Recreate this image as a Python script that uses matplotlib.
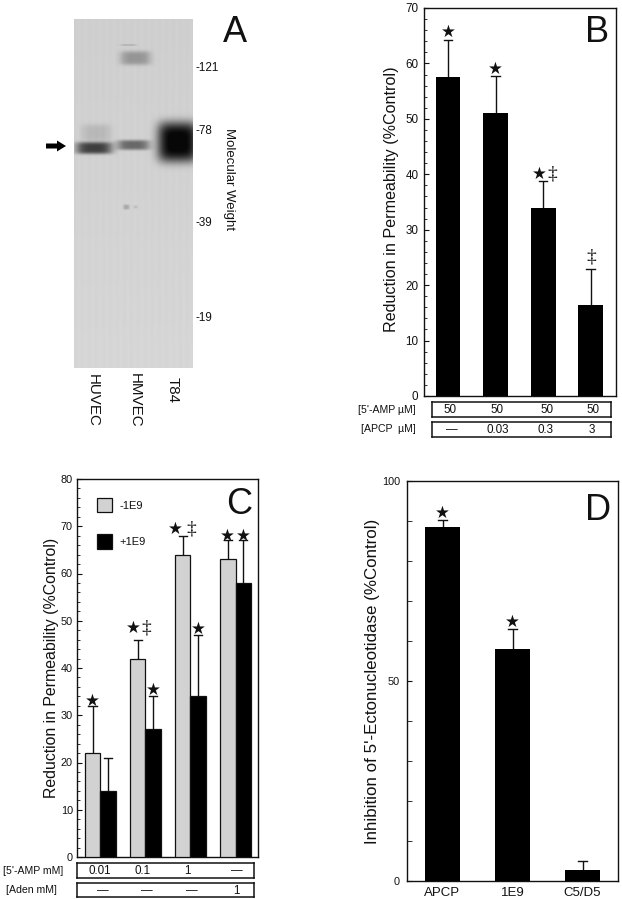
import numpy as np
import matplotlib
matplotlib.use("Agg")
import matplotlib.pyplot as plt
from matplotlib.patches import FancyArrow
from matplotlib.ticker import MultipleLocator

plt.rcParams['font.family'] = ['Liberation Sans', 'DejaVu Sans']
INK = '#111111'
W, H = 622, 899

# Panel A: gel bands (centre x px, centre y px, half width, half height, darkness)
lanes_a = ['HUVEC', 'HMVEC', 'T84']
mw_labels = ['-121', '-78', '-39', '-19']
gel_bands = [
    (94, 148, 18, 6, 0.70),
    (96, 133, 15, 9, 0.12),
    (133, 145, 16, 5, 0.50),
    (177, 142, 20, 20, 1.0),
    (135, 58, 15, 7, 0.28),
    (128, 45, 8, 0.7, 0.15),
    (126, 207, 3, 2.5, 0.20),
    (135, 207, 2, 1.5, 0.10),
]

# Panel B
doses_amp_b = ['50', '50', '50', '50']
doses_apcp_b = ['—', '0.03', '0.3', '3']
reduction_b = [57.5, 51, 34, 16.5]
err_top_b = [64.3, 57.7, 38.7, 22.9]
marks_b = ['*', '*', '*‡', '‡']

# Panel C
doses_amp_c = ['0.01', '0.1', '1', '—']
doses_aden_c = ['—', '—', '—', '1']
minus_1e9 = [22, 42, 64, 63]
plus_1e9 = [14, 27, 34, 58]
err_minus = [32, 46, 68, 67]
err_plus = [21, 34, 47, 67]
marks_minus = ['*', '*‡', '*‡', '*']
marks_plus = ['', '*', '*', '*']

# Panel D
cats_d = ['APCP', '1E9', 'C5/D5']
inhibition_d = [88.5, 58, 2.7]
err_top_d = [90.2, 63, 5]
marks_d = ['*', '*', '']


def axpx(fig, l, t, r, b, **kw):
    return fig.add_axes([l / W, 1 - b / H, (r - l) / W, (b - t) / H], **kw)


def ftext(fig, x, y, s, **kw):
    kw.setdefault('ha', 'center')
    kw.setdefault('va', 'center')
    kw.setdefault('color', INK)
    return fig.text(x / W, 1 - y / H, s, **kw)


def style(ax, major, minor, size, pad):
    ax.yaxis.set_major_locator(MultipleLocator(major))
    ax.yaxis.set_minor_locator(MultipleLocator(minor))
    ax.tick_params(axis='y', which='major', direction='in', length=3.8, width=0.8,
                   labelsize=size, pad=pad, colors=INK)
    ax.tick_params(axis='y', which='minor', direction='in', length=2.4, width=0.6, colors=INK)
    for s in ax.spines.values():
        s.set_linewidth(1.0)
        s.set_color(INK)


def errs(ax, x, v, top, w):
    for xi, vi, ti in zip(x, v, top):
        ax.plot([xi, xi], [vi, ti], color=INK, lw=1.0, solid_capstyle='butt', zorder=2)
        ax.plot([xi - w / 2, xi + w / 2], [ti, ti], color=INK, lw=1.0, zorder=2)


def star(ax, x, y, size=12):
    ax.text(x, y, '★', ha='center', va='center', fontsize=size, family='DejaVu Sans',
            color=INK, zorder=4)


def dagger(ax, x, y, size=14):
    ax.text(x, y, '‡', ha='center', va='center', fontsize=size, family='Liberation Serif',
            color=INK, zorder=4)


def marks(ax, x, top, labels, star_dx, dag_dx, dy_star, dy_dag):
    for xi, ti, m in zip(x, top, labels):
        if m == '*':
            star(ax, xi, ti + dy_star)
        elif m == '‡':
            dagger(ax, xi, ti + dy_dag)
        elif m == '*‡':
            star(ax, xi + star_dx, ti + dy_star)
            dagger(ax, xi + dag_dx, ti + dy_star)


def dose_box(fig, l, t, r, b, centers, labels, title, title_x):
    ax = axpx(fig, l, t, r, b)
    ax.set_xlim(l, r)
    ax.set_ylim(0, 1)
    ax.set_xticks([])
    ax.set_yticks([])
    for s in ax.spines.values():
        s.set_linewidth(1.1)
        s.set_color(INK)
    for c, lab in zip(centers, labels):
        ax.text(c, 0.45, lab, ha='center', va='center', fontsize=8.4, color=INK)
    ftext(fig, title_x, (t + b) / 2, title, fontsize=7.6, ha='right')


fig = plt.figure(figsize=(W / 100, H / 100), dpi=100, facecolor='white')

# ---------- A ----------
gl, gt, gr, gb = 74, 19, 192, 368
ax = axpx(fig, gl, gt, gr, gb)
xx, yy = np.meshgrid(np.arange(gl, gr) + .5, np.arange(gt, gb) + .5)
dark = np.zeros_like(xx)
for cx, cy, hw, hh, d in gel_bands:
    blob = d * np.exp(-((np.abs(xx - cx) / hw) ** 4) - ((np.abs(yy - cy) / hh) ** 4))
    dark = 1 - (1 - dark) * (1 - blob)
base = 0.81 + 0.005 * np.sin(xx * 0.9) + 0.03 * (yy - gt) / (gb - gt)
img = np.clip(base * (1 - dark), 0.03, 1)
ax.imshow(img, cmap='gray', vmin=0, vmax=1, extent=(gl, gr, gb, gt), aspect='auto', interpolation='bilinear')
ax.axis('off')
for lab, y in zip(mw_labels, [68, 131, 223, 318]):
    ftext(fig, 196, y, lab, fontsize=8.4, ha='left')
ftext(fig, 229, 179, 'Molecular Weight', fontsize=9.5, rotation=270)
for lab, x, y in zip(lanes_a, [93, 135, 173], [400, 400, 390]):
    ftext(fig, x, y, lab, fontsize=10.9, rotation=270)
ftext(fig, 235, 33, 'A', fontsize=26)
ov = axpx(fig, 0, 0, W, H)
ov.set_xlim(0, W)
ov.set_ylim(H, 0)
ov.axis('off')
ov.patch.set_alpha(0)
ov.add_patch(FancyArrow(46, 146, 20, 0, width=5, head_width=11, head_length=9,
                        length_includes_head=True, color='black', lw=0))

# ---------- B ----------
ax = axpx(fig, 424, 8, 616, 396)
x = np.arange(4)
ax.bar(x, reduction_b, width=0.52, color='black', zorder=3)
errs(ax, x, reduction_b, err_top_b, 0.18)
marks(ax, x, err_top_b, marks_b, -0.09, 0.19, 1.3, 2.2)
ax.set_xlim(-0.504, 3.53)
ax.set_ylim(0, 70)
ax.set_xticks([])
style(ax, 10, 2, 8.4, 4)
ax.set_ylabel('Reduction in Permeability (%Control)', fontsize=11.6, color=INK)
ax.yaxis.set_label_coords(-0.130, 0.506)
ftext(fig, 597, 33, 'B', fontsize=26)
dose_box(fig, 432, 402, 611, 417, [450, 497, 547, 593], doses_amp_b, '[5\'-AMP µM]', 416)
dose_box(fig, 432, 422, 611, 437, [452, 498, 546, 592], doses_apcp_b, '[APCP  µM]', 416)

# ---------- C ----------
ax = axpx(fig, 77, 479, 258, 857)
x = np.arange(4)
bw = 0.344
xm, xp = x - bw / 2, x + bw / 2
ax.bar(xm, minus_1e9, width=bw, color='#d2d2d2', edgecolor=INK, lw=0.9, zorder=3, label='-1E9')
ax.bar(xp, plus_1e9, width=bw, color='black', edgecolor=INK, lw=0.9, zorder=3, label='+1E9')
errs(ax, xm, minus_1e9, err_minus, 0.18)
errs(ax, xp, plus_1e9, err_plus, 0.18)
marks(ax, xm[:1], err_minus[:1], marks_minus[:1], 0, 0, 1.1, 2)
marks(ax, xm[1:2], err_minus[1:2], marks_minus[1:2], -0.09, 0.18, 2.5, 2)
marks(ax, xm[2:3], err_minus[2:3], marks_minus[2:3], -0.16, 0.18, 1.5, 2)
marks(ax, xm[3:], err_minus[3:], marks_minus[3:], 0, 0, 1.0, 2)
marks(ax, xp[:3], err_plus[:3], marks_plus[:3], 0, 0, 1.3, 2)
marks(ax, xp[3:], err_plus[3:], marks_plus[3:], 0, 0, 1.0, 2)
ax.set_xlim(-0.517, 3.497)
ax.set_ylim(0, 80)
ax.set_xticks([])
style(ax, 10, 2, 7.8, 3)
ax.set_ylabel('Reduction in Permeability (%Control)', fontsize=11.4, color=INK)
ax.yaxis.set_label_coords(-0.099, 0.5)
ftext(fig, 239, 504, 'C', fontsize=26)
leg = ax.legend(loc='upper left', bbox_to_anchor=(0.11, 0.95), frameon=False, fontsize=8,
                handlelength=1.35, handleheight=1.6, labelspacing=2.0, handletextpad=0.7,
                borderpad=0, borderaxespad=0)
for t in leg.get_texts():
    t.set_color(INK)
dose_box(fig, 77, 863, 254, 878, [100, 143, 187, 237], doses_amp_c, '[5\'-AMP mM]', 63)
dose_box(fig, 77, 883, 254, 897, [103, 147, 192, 236], doses_aden_c, '[Aden mM]', 57)

# ---------- D ----------
ax = axpx(fig, 407, 481, 618, 881)
x = np.arange(3)
ax.bar(x, inhibition_d, width=0.51, color='black', zorder=3)
errs(ax, x, inhibition_d, err_top_d, 0.12)
marks(ax, x, err_top_d, marks_d, 0, 0, 1.75, 2)
ax.set_xlim((407 - 442.5) / 70, (618 - 442.5) / 70)
ax.set_ylim(0, 100)
ax.set_xticks(x, cats_d, fontsize=9.5)
ax.tick_params(axis='x', length=0, pad=4, colors=INK)
style(ax, 50, 10, 7.8, 5)
ax.tick_params(axis='y', which='major', length=3.8)
ax.tick_params(axis='y', which='minor', length=3.8)
ax.set_ylabel("Inhibition of 5'-Ectonucleotidase (%Control)", fontsize=12.2, color=INK)
ax.yaxis.set_label_coords(-0.128, 0.5)
ftext(fig, 598, 510, 'D', fontsize=26)

fig.savefig('out.png', dpi=100)
